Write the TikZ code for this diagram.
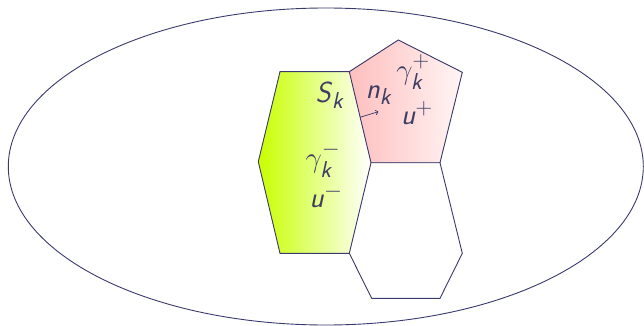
\RequirePackage{fix-cm}
\documentclass[tikz,border=0pt]{standalone}
\usepackage{amsmath}
\usetikzlibrary{arrows.meta,shapes.geometric}
\DeclareMathSizes{29}{29}{23}{18}
\definecolor{lc}{HTML}{3A3A6E}
\definecolor{tc}{HTML}{3E3E64}
\newcommand\sv[1]{\textsf{\slshape #1}}
\newcommand\sk{\text{\sv{k}}}
\begin{document}
\begin{tikzpicture}[x=1pt,y=-1pt,
  edge/.style={draw=lc,line width=0.9pt,line join=miter},
  lbl/.style={text=tc,font=\fontsize{29}{33}\selectfont,inner sep=0pt}]
\useasboundingbox (0,0) rectangle (644,326);
\node[edge,ellipse,minimum width=635pt,minimum height=317pt,inner sep=0pt] (dom) at (325.8,166.5) {};
\coordinate (g1) at (280,71.7);
\coordinate (g2) at (349.3,71.7);
\coordinate (g3) at (371,162.7);
\coordinate (g4) at (349.3,253.3);
\coordinate (g5) at (280,253.3);
\coordinate (g6) at (258.3,161.7);
\coordinate (p1) at (398.3,40);
\coordinate (p2) at (462.3,72.3);
\coordinate (p3) at (440,162.7);
\coordinate (h1) at (462.3,253.3);
\coordinate (h2) at (440,298.3);
\coordinate (h3) at (371.7,298.3);
\fill[left color={rgb,255:red,200;green,255;blue,0},right color=white] (g1)--(g2)--(g3)--(g4)--(g5)--(g6)--cycle;
\fill[left color={rgb,255:red,255;green,190;blue,190},right color={rgb,255:red,255;green,245;blue,245}] (g2)--(p1)--(p2)--(p3)--(g3)--cycle;
\draw[edge] (g1)--(g2)--(g3)--(g4)--(g5)--(g6)--cycle;
\draw[edge] (g2)--(p1)--(p2)--(p3)--(g3);
\draw[edge] (p3)--(h1)--(h2)--(h3)--(g4);
\node[lbl] (sk) at (330,95) {\sv{S}$_{\sk}$};
\node[lbl] (nk) at (379,95) {\sv{n}$_{\sk}$};
\node[lbl] (gp) at (413,72) {$\gamma_{\sk}^{+}$};
\node[lbl] (up) at (417,113) {\sv{u}$^{+}$};
\node[lbl] (gm) at (323,160) {$\gamma_{\sk}^{-}$};
\node[lbl] (um) at (326,196) {\sv{u}$^{-}$};
\coordinate (a0) at (360,117.3);
\coordinate (a1) at (378.3,111.7);
\draw[lc,line width=0.7pt,-{To[length=3pt,width=5pt]}] (a0)--(a1);
\end{tikzpicture}
\end{document}
